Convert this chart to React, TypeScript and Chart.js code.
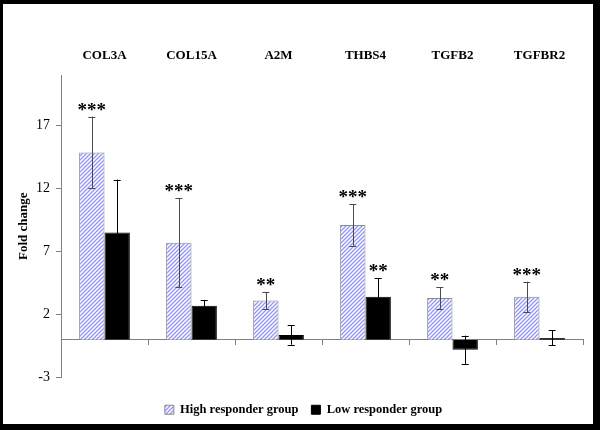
import React, { useEffect, useRef } from "react";
import { Chart, registerables } from "chart.js";

Chart.register(...registerables);

const categories = ["COL3A", "COL15A", "A2M", "THBS4", "TGFB2", "TGFBR2"];
const highValues = [14.85, 7.7, 3.1, 9.1, 3.3, 3.4];
const highErrors = [2.85, 3.55, 0.65, 1.65, 0.85, 1.2];
const lowValues = [8.5, 2.7, 0.38, 3.4, -0.8, 0.14];
const lowErrors = [4.2, 0.45, 0.78, 1.5, 1.12, 0.6];
const highStars = ["***", "***", "**", "***", "**", "***"];
const lowStars = ["", "", "", "**", "", ""];
const yTicks = [-3, 2, 7, 12, 17];

const SERIF = "'Liberation Serif', 'DejaVu Serif', serif";

function makeHatch(): CanvasPattern | string {
  const c = document.createElement("canvas");
  c.width = 4;
  c.height = 4;
  const g = c.getContext("2d");
  if (!g) return "#a0a0f0";
  g.fillStyle = "#ffffff";
  g.fillRect(0, 0, 4, 4);
  g.strokeStyle = "#9494f2";
  g.lineWidth = 1.3;
  g.beginPath();
  g.moveTo(-1, 5);
  g.lineTo(5, -1);
  g.moveTo(-1, 1);
  g.lineTo(1, -1);
  g.moveTo(3, 5);
  g.lineTo(5, 3);
  g.stroke();
  const p = g.createPattern(c, "repeat");
  return p || "#a0a0f0";
}

const errorStars = {
  id: "errorStars",
  afterDatasetsDraw(chart: any) {
    const ctx = chart.ctx;
    const y = chart.scales.y;
    const errs = [highErrors, lowErrors];
    const stars = [highStars, lowStars];
    const colors = ["#4a4a4a", "#000"];
    ctx.save();
    chart.data.datasets.forEach((ds: any, i: number) => {
      const meta = chart.getDatasetMeta(i);
      meta.data.forEach((el: any, j: number) => {
        const v = ds.data[j];
        const e = errs[i][j];
        const top = y.getPixelForValue(v + e);
        const bot = y.getPixelForValue(v - e);
        ctx.strokeStyle = colors[i];
        ctx.lineWidth = 1;
        ctx.beginPath();
        ctx.moveTo(Math.round(el.x) + 0.5, top);
        ctx.lineTo(Math.round(el.x) + 0.5, bot);
        ctx.moveTo(el.x - 3.5, Math.round(top) + 0.5);
        ctx.lineTo(el.x + 3.5, Math.round(top) + 0.5);
        ctx.moveTo(el.x - 3.5, Math.round(bot) + 0.5);
        ctx.lineTo(el.x + 3.5, Math.round(bot) + 0.5);
        ctx.stroke();
        const s = stars[i][j];
        if (s) {
          ctx.fillStyle = "#000";
          ctx.font = "bold 19px " + SERIF;
          ctx.textAlign = "center";
          ctx.textBaseline = "alphabetic";
          ctx.fillText(s, el.x, top - 1);
        }
      });
    });
    ctx.restore();
  },
};

const frame = {
  id: "frame",
  beforeDraw(chart: any) {
    const ctx = chart.ctx;
    ctx.save();
    ctx.fillStyle = "#000";
    ctx.fillRect(0, 0, chart.width, chart.height);
    ctx.fillStyle = "#fff";
    ctx.fillRect(3, 4, 590, 420);
    ctx.restore();
  },
};

const legendShift = {
  id: "legendShift",
  afterLayout(chart: any) {
    const lg = chart.legend;
    if (!lg) return;
    lg.top += 13;
    lg.bottom += 13;
    lg.left += 12;
    lg.right += 12;
  },
};

export default function App() {
  const ref = useRef<HTMLCanvasElement>(null);
  useEffect(() => {
    if (!ref.current) return;
    const hatch = makeHatch();
    const chart = new Chart(ref.current, {
      type: "bar",
      data: {
        labels: categories,
        datasets: [
          {
            label: "High responder group",
            data: highValues,
            backgroundColor: hatch as any,
            borderColor: "#8a8a8a",
            borderWidth: 1,
            categoryPercentage: 0.583,
            barPercentage: 1,
          },
          {
            label: "Low responder group",
            data: lowValues,
            backgroundColor: "#000",
            borderColor: "#000",
            borderWidth: 1,
            categoryPercentage: 0.583,
            barPercentage: 1,
          },
        ],
      },
      options: {
        animation: false,
        responsive: false,
        layout: { padding: { left: 0, right: 17, top: 0, bottom: 17 } },
        plugins: {
          tooltip: { enabled: false },
          legend: {
            position: "bottom",
            labels: {
              boxWidth: 9,
              boxHeight: 9,
              padding: 13,
              color: "#000",
              font: { family: SERIF, size: 12.5, weight: "bold" },
            },
          },
        },
        scales: {
          x: {
            type: "category",
            position: "top",
            grid: { display: false, drawTicks: false },
            border: { display: false },
            ticks: {
              color: "#000",
              padding: 12,
              maxRotation: 0,
              font: { family: SERIF, size: 13, weight: "bold" },
            },
            afterFit(scale: any) {
              scale.height = 75;
            },
          },
          x2: {
            type: "category",
            labels: categories,
            position: { y: 0 } as any,
            offset: true,
            grid: {
              display: true,
              offset: true,
              drawOnChartArea: false,
              drawTicks: true,
              tickLength: 5,
              color: "#808080",
            },
            border: { display: true, color: "#808080" },
            ticks: { display: false },
          },
          y: {
            min: -3,
            max: 21,
            afterBuildTicks(scale: any) {
              scale.ticks = yTicks.map((v) => ({ value: v }));
            },
            grid: {
              display: true,
              drawOnChartArea: false,
              drawTicks: true,
              tickLength: 5,
              color: "#808080",
            },
            border: { display: true, color: "#808080" },
            ticks: {
              color: "#000",
              padding: 6,
              font: { family: SERIF, size: 14 },
            },
            title: {
              display: true,
              text: "Fold change",
              color: "#000",
              padding: { top: 16, bottom: 0 },
              font: { family: SERIF, size: 13, weight: "bold" },
            },
            afterFit(scale: any) {
              scale.width = 61;
            },
          },
        },
      } as any,
      plugins: [frame, errorStars, legendShift],
    });
    return () => chart.destroy();
  }, []);
  return (
    <div style={{ position: "fixed", left: 0, top: 0, width: 600, height: 430 }}>
      <canvas ref={ref} width={600} height={430} style={{ display: "block" }} />
    </div>
  );
}
